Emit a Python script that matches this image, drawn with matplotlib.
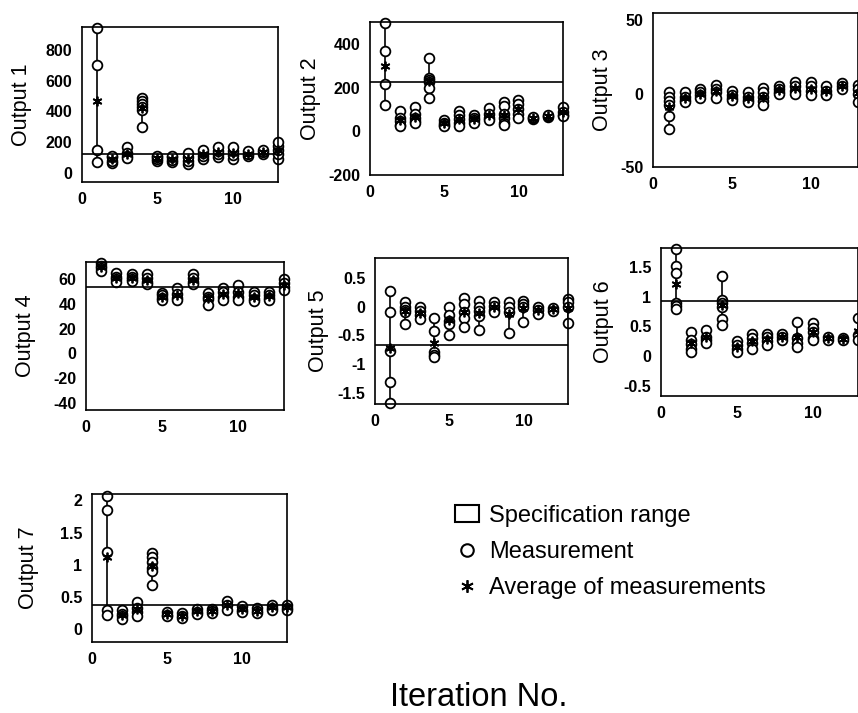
import numpy as np
import matplotlib.pyplot as plt
from matplotlib.lines import Line2D
from matplotlib.patches import Patch

plt.rcParams['font.family'] = ['Liberation Sans', 'DejaVu Sans']
plt.rcParams['axes.unicode_minus'] = False

iterations = list(range(1, 14))

output1 = [[942, 704, 150, 70], [65, 80, 100, 110], [165, 130, 110, 95],
           [490, 470, 450, 430, 410, 300], [80, 90, 100, 110], [70, 85, 100, 110],
           [55, 80, 105, 130], [90, 110, 130, 150], [100, 120, 145, 165],
           [90, 115, 145, 170], [110, 125, 140], [120, 135, 150], [90, 120, 150, 175, 200]]
output2 = [[495, 367, 215, 119], [95, 60, 45, 30, 22], [109, 80, 60, 45, 40],
           [335, 245, 235, 225, 196, 153], [50, 40, 30, 25], [95, 75, 55, 40, 25],
           [75, 60, 50, 40], [105, 80, 60, 50], [135, 115, 80, 60, 40, 30],
           [145, 125, 100, 80, 60], [55, 60, 65], [65, 70, 75], [110, 90, 75, 70]]
output3 = [[1, -2, -5, -8, -15, -24], [1, -2, -4, -6], [3, 1, -1, -3], [6, 3, 1, -3],
           [2, -1, -3, -4], [1, -2, -4, -6], [4, 1, -2, -5, -8], [5, 3, 1, 0],
           [8, 5, 2, 0], [8, 5, 2, -1], [5, 2, 0, -1], [7, 5, 3], [6, 3, 0, -6]]
output4 = [[73, 71, 69, 67], [65, 62, 60, 58], [64, 62, 60, 59], [64, 61, 58, 56],
           [49, 47, 45, 43], [53, 48, 45, 43], [64, 61, 58, 56], [49, 46, 44, 39],
           [53, 50, 46, 43], [55, 50, 46, 43], [50, 47, 44, 42], [50, 47, 45, 43],
           [60, 57, 54, 51]]
output5 = [[0.27, -0.1, -0.77, -1.31, -1.68], [0.08, 0, -0.05, -0.1, -0.3],
           [0, -0.08, -0.15, -0.22], [-0.19, -0.42, -0.8, -0.85, -0.88],
           [0, -0.15, -0.25, -0.3, -0.5], [0.15, 0.05, -0.1, -0.2, -0.35],
           [0.1, 0, -0.08, -0.16, -0.4], [0.08, 0.02, -0.05, -0.1],
           [0.08, 0.0, -0.1, -0.46], [0.1, 0.05, 0, -0.27], [0, -0.05, -0.13],
           [-0.02, -0.07], [0.14, 0.08, 0.0, -0.28]]
output6 = [[1.8, 1.52, 1.4, 0.9, 0.85, 0.8], [0.41, 0.27, 0.2, 0.12, 0.07],
           [0.44, 0.33, 0.27, 0.22], [1.35, 0.95, 0.9, 0.82, 0.63, 0.52],
           [0.25, 0.18, 0.12, 0.07], [0.38, 0.3, 0.22, 0.12], [0.38, 0.32, 0.25, 0.19],
           [0.38, 0.32, 0.27], [0.58, 0.3, 0.22, 0.16], [0.56, 0.48, 0.4, 0.3, 0.27],
           [0.32, 0.28], [0.31, 0.27], [0.65, 0.35, 0.28]]
output7 = [[2.07, 1.85, 1.2, 0.3, 0.22], [0.3, 0.24, 0.2, 0.16], [0.42, 0.33, 0.27, 0.21],
           [1.18, 1.12, 1.05, 0.95, 0.9, 0.68], [0.27, 0.22, 0.2], [0.25, 0.2, 0.17],
           [0.32, 0.27, 0.24], [0.32, 0.28, 0.25], [0.43, 0.38, 0.3], [0.36, 0.3, 0.27],
           [0.33, 0.28, 0.25], [0.38, 0.33, 0.3], [0.38, 0.33, 0.3]]

outputs = [output1, output2, output3, output4, output5, output6, output7]
labels = ['Output 1', 'Output 2', 'Output 3', 'Output 4', 'Output 5', 'Output 6', 'Output 7']
spec_limits = [125, 225, None, 54, -0.67, 0.92, 0.38]
ylims = [(-60, 950), (-200, 500), (-50, 55), (-46, 74), (-1.7, 0.85), (-0.67, 1.82), (-0.2, 2.1)]
yticks = [[0, 200, 400, 600, 800], [-200, 0, 200, 400], [-50, 0, 50],
          [-40, -20, 0, 20, 40, 60], [-1.5, -1, -0.5, 0, 0.5], [-0.5, 0, 0.5, 1, 1.5],
          [0, 0.5, 1, 1.5, 2]]

# axes boxes in pixels: left, right, top, bottom ; ylabel x position in pixels
W, H = 858, 713
boxes = [(82, 278, 27, 182), (370, 563, 22, 175), (653, 858, 13, 167),
         (86, 284, 262, 410), (375, 568, 258, 404), (661, 858, 248, 396),
         (92, 287, 494, 642)]
label_px = [32, 321, 613, 36, 329, 614, 39]

fig = plt.figure(figsize=(W / 100, H / 100), dpi=100)

for k, data in enumerate(outputs):
    l, r, t, b = boxes[k]
    ax = fig.add_axes([l / W, 1 - b / H, (r - l) / W, (b - t) / H])
    for it, vals in zip(iterations, data):
        ax.plot([it, it], [min(vals), max(vals)], color='black', lw=1.2)
        ax.plot([it] * len(vals), vals, 'o', ms=7, mfc='white', mec='black',
                mew=1.3, clip_on=False)
        ax.plot(it, np.mean(vals), marker=(6, 2, 0), ms=7, color='black',
                mew=1.3, clip_on=False)
    if spec_limits[k] is not None:
        ax.axhline(spec_limits[k], color='black', lw=1.2)
    ax.set_xlim(0, 13)
    ax.set_ylim(*ylims[k])
    ax.set_xticks([0, 5, 10])
    ax.set_yticks(yticks[k])
    ax.set_yticklabels(['%g' % v for v in yticks[k]])
    ax.tick_params(length=0, pad=7, labelsize=11.5)
    for lab in ax.get_xticklabels() + ax.get_yticklabels():
        lab.set_fontweight('bold')
    for s in ax.spines.values():
        s.set_linewidth(1.2)
    ax.set_ylabel(labels[k], fontsize=15.5)
    ax.yaxis.set_label_coords((label_px[k] - l) / (r - l), 0.5)

handles = [Patch(facecolor='white', edgecolor='black', linewidth=1.5),
           Line2D([], [], ls='none', marker='o', ms=9, mfc='white', mec='black', mew=1.5),
           Line2D([], [], ls='none', marker=(6, 2, 0), ms=9, color='black', mew=1.3)]
fig.legend(handles, ['Specification range', 'Measurement', 'Average of measurements'],
           loc='center left', bbox_to_anchor=(455 / W, 1 - 552 / H), frameon=False,
           fontsize=17, handlelength=1.0, handleheight=0.7, handletextpad=0.45,
           labelspacing=0.6, borderpad=0, borderaxespad=0)

fig.text(479 / W, 1 - 698 / H, 'Iteration No.', fontsize=23.5, ha='center', va='center')

fig.savefig('out.png', dpi=100)
